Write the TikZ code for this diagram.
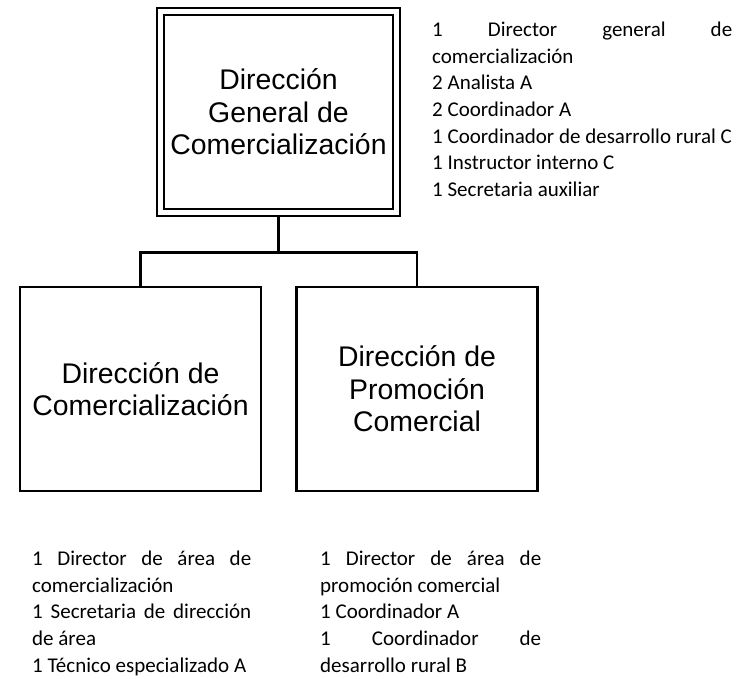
\documentclass[tikz,border=0pt]{standalone}
\usepackage{fontspec}
\setmainfont{Liberation Sans}
\newfontfamily\listfont{Carlito}
\newcommand\singuion{\hyphenpenalty=10000 \exhyphenpenalty=10000 \tolerance=10000 \hbadness=10000 \parindent=0pt\relax}
\usetikzlibrary{positioning}
\tikzset{
  unidad/.style={rectangle,draw,line width=2.8pt,minimum width=241pt,minimum height=204pt,
    inner sep=0pt,align=center,font=\fontsize{28.4}{32.5}\selectfont},
  principal/.style={unidad,double,line width=2.6pt,double distance=4.4pt,
    minimum width=236pt,minimum height=201pt,outer sep=4.8pt},
  plantilla/.style={anchor=north west,inner sep=0pt,align=justify,
    font=\listfont\fontsize{21}{26.6}\selectfont,execute at begin node=\singuion},
  rama/.style={line width=2.8pt}
}
\begin{document}
\begin{tikzpicture}[x=1pt,y=-1pt]
  \useasboundingbox (0,0) rectangle (743,678);

  % unidades
  \node[principal] (dgc) at (278.5,112) {Dirección\\General de\\Comercialización};
  \node[unidad] (dc) at (140.5,389) {Dirección de\\Comercialización};
  \node[unidad] (dpc) at (417,389) {Dirección de\\Promoción\\Comercial};

  % ramas
  \coordinate[below=35pt of dgc.south] (cruce);
  \draw[rama] (dgc.south) -- (cruce);
  \draw[rama] (dc.north) |- (cruce) -| (dpc.north);

  % plantillas de personal
  \node[plantilla,text width=300pt] (pdgc) at (432,22) {1 Director general de comercialización\par
    2 Analista A\par
    2 Coordinador A\par
    1 Coordinador de desarrollo rural C\par
    1 Instructor interno C\par
    1 Secretaria auxiliar};
  \node[plantilla,text width=219pt] (pdc) at (32,551) {1 Director de área de comercialización\par
    1 Secretaria de dirección de área\par
    1 Técnico especializado A};
  \node[plantilla,text width=221pt] (pdpc) at (320,551) {1 Director de área de promoción comercial\par
    1 Coordinador A\par
    1 Coordinador de desarrollo rural B};
\end{tikzpicture}
\end{document}
